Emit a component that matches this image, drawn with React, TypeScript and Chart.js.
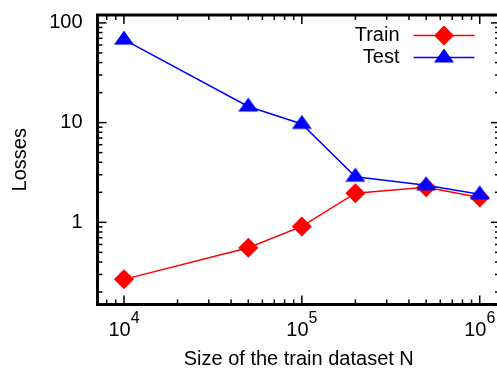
import React, { useEffect, useRef } from 'react';
import { Chart, registerables } from 'chart.js';

Chart.register(...registerables);

// ---- data ----
const trainSizes = [1e4, 5e4, 1e5, 2e5, 5e5, 1e6];
const trainLoss = [0.268, 0.556, 0.91, 1.96, 2.25, 1.77];
const testLoss = [68, 14.5, 9.7, 2.87, 2.35, 1.91];
const seriesLabels = ['Train', 'Test'];
const seriesColors = ['#ff0000', '#0000ff'];
const xTitle = 'Size of the train dataset N';
const yTitle = 'Losses';
const X_MIN = 7100;
const X_MAX = 1.3e6;
const Y_MIN = 0.15;
const Y_MAX = 120;

const FONT = '"Liberation Sans", Arial, Helvetica, sans-serif';

function makeTriangle(color: string): HTMLCanvasElement {
  const c = document.createElement('canvas');
  c.width = 20;
  c.height = 19;
  const g = c.getContext('2d')!;
  g.fillStyle = color;
  g.beginPath();
  g.moveTo(10, 0.5);
  g.lineTo(20, 14.5);
  g.lineTo(0, 14.5);
  g.closePath();
  g.fill();
  return c;
}

function drawDiamond(ctx: CanvasRenderingContext2D, x: number, y: number, r: number, color: string) {
  ctx.fillStyle = color;
  ctx.beginPath();
  ctx.moveTo(x, y - r);
  ctx.lineTo(x + r, y);
  ctx.lineTo(x, y + r);
  ctx.lineTo(x - r, y);
  ctx.closePath();
  ctx.fill();
}

const framePlugin = {
  id: 'gnuFrame',
  afterDatasetsDraw(chart: any) {
    const { ctx, chartArea: a, scales } = chart;
    const xs = scales.x;
    const ys = scales.y;
    ctx.save();
    ctx.strokeStyle = '#000';
    ctx.lineWidth = 1.5;
    const line = (x1: number, y1: number, x2: number, y2: number) => {
      ctx.beginPath();
      ctx.moveTo(x1, y1);
      ctx.lineTo(x2, y2);
      ctx.stroke();
    };
    // x ticks (bottom + top mirror)
    for (let e = Math.floor(Math.log10(X_MIN)); e <= Math.ceil(Math.log10(X_MAX)); e++) {
      for (let m = 1; m <= 9; m++) {
        const v = m * Math.pow(10, e);
        if (v <= X_MIN || v >= X_MAX) continue;
        const px = xs.getPixelForValue(v);
        const len = m === 1 ? 9 : 5;
        line(px, a.bottom, px, a.bottom - len);
        line(px, a.top, px, a.top + len);
      }
    }
    // y ticks (left + right mirror)
    for (let e = Math.floor(Math.log10(Y_MIN)); e <= Math.ceil(Math.log10(Y_MAX)); e++) {
      for (let m = 1; m <= 9; m++) {
        const v = m * Math.pow(10, e);
        if (v <= Y_MIN || v >= Y_MAX) continue;
        const py = ys.getPixelForValue(v);
        const len = m === 1 ? 9 : 5;
        line(a.left, py, a.left + len, py);
        line(a.right, py, a.right - len, py);
      }
    }
    ctx.lineWidth = 3;
    ctx.strokeRect(a.left, a.top, a.right - a.left, a.bottom - a.top);

    // x tick labels: 10^e
    ctx.fillStyle = '#000';
    ctx.textBaseline = 'alphabetic';
    ctx.textAlign = 'left';
    for (let e = Math.ceil(Math.log10(X_MIN)); e <= Math.floor(Math.log10(X_MAX)); e++) {
      const px = xs.getPixelForValue(Math.pow(10, e));
      ctx.font = `20px ${FONT}`;
      const w1 = ctx.measureText('10').width;
      ctx.font = `16px ${FONT}`;
      const w2 = ctx.measureText(String(e)).width;
      const x0 = px - (w1 + w2) / 2;
      ctx.font = `20px ${FONT}`;
      ctx.fillText('10', x0, a.bottom + 31.5);
      ctx.font = `16px ${FONT}`;
      ctx.fillText(String(e), x0 + w1, a.bottom + 18.5);
    }
    ctx.restore();
  },
  afterDraw(chart: any) {
    const { ctx, chartArea: a } = chart;
    ctx.save();
    chart.data.datasets.forEach((ds: any, i: number) => {
      const y = a.top + 20.5 + 22 * i;
      ctx.font = `20px ${FONT}`;
      ctx.fillStyle = '#000';
      ctx.textAlign = 'right';
      ctx.textBaseline = 'middle';
      ctx.fillText(ds.label, a.right - 100.5, y);
      ctx.strokeStyle = ds.borderColor;
      ctx.lineWidth = ds.borderWidth;
      ctx.beginPath();
      ctx.moveTo(a.right - 86.5, y);
      ctx.lineTo(a.right - 25.5, y);
      ctx.stroke();
      const mx = a.right - 56;
      if (ds.pointStyle === 'rectRot') {
        drawDiamond(ctx, mx, y, ds.pointRadius, ds.pointBackgroundColor);
      } else if (ds.pointStyle instanceof HTMLCanvasElement) {
        const img = ds.pointStyle as HTMLCanvasElement;
        ctx.drawImage(img, mx - img.width / 2, y - img.height / 2);
      }
    });
    ctx.restore();
  },
};

export default function App() {
  const ref = useRef<HTMLCanvasElement | null>(null);

  useEffect(() => {
    if (!ref.current) return;
    const tri = makeTriangle(seriesColors[1]);
    const chart = new Chart(ref.current, {
      type: 'line',
      data: {
        datasets: [
          {
            label: seriesLabels[0],
            data: trainSizes.map((x, i) => ({ x, y: trainLoss[i] })),
            borderColor: seriesColors[0],
            backgroundColor: seriesColors[0],
            pointBackgroundColor: seriesColors[0],
            borderWidth: 1.5,
            pointStyle: 'rectRot',
            pointRadius: 10,
            pointBorderWidth: 0,
            tension: 0,
            order: 1,
          },
          {
            label: seriesLabels[1],
            data: trainSizes.map((x, i) => ({ x, y: testLoss[i] })),
            borderColor: seriesColors[1],
            backgroundColor: seriesColors[1],
            pointBackgroundColor: seriesColors[1],
            borderWidth: 1.5,
            pointStyle: tri as any,
            pointRadius: 10,
            pointBorderWidth: 0,
            tension: 0,
            order: 0,
          },
        ],
      },
      options: {
        responsive: false,
        animation: false,
        devicePixelRatio: 1,
        layout: { padding: { left: 0, top: 15, right: 7.5, bottom: 0 } },
        plugins: {
          legend: { display: false },
          tooltip: { enabled: false },
        },
        scales: {
          x: {
            type: 'logarithmic',
            min: X_MIN,
            max: X_MAX,
            grid: { display: false },
            border: { display: false },
            ticks: { display: false },
            afterFit: (s: any) => {
              s.height = 64.5;
              s.paddingLeft = 0;
              s.paddingRight = 0;
            },
            title: {
              display: true,
              text: xTitle,
              color: '#000',
              font: { family: FONT, size: 20, lineHeight: 1 },
              padding: { top: 0, bottom: 0 },
            },
          },
          y: {
            type: 'logarithmic',
            min: Y_MIN,
            max: Y_MAX,
            grid: { display: false, drawTicks: false },
            border: { display: false },
            ticks: {
              autoSkip: false,
              padding: 15,
              color: '#000',
              font: { family: FONT, size: 20 },
              callback: (v: any) => {
                const l = Math.log10(Number(v));
                return Math.abs(l - Math.round(l)) < 1e-9 ? String(Math.round(Number(v))) : '';
              },
            },
            afterFit: (s: any) => {
              s.width = 97.5;
              s.paddingTop = 0;
              s.paddingBottom = 0;
            },
            title: {
              display: true,
              text: yTitle,
              color: '#000',
              font: { family: FONT, size: 20, lineHeight: 1 },
              padding: { top: 10.5, bottom: 0 },
            },
          },
        },
      },
      plugins: [framePlugin],
    });
    return () => chart.destroy();
  }, []);

  return (
    <div
      style={{
        position: 'fixed',
        left: 0,
        top: 0,
        width: 497,
        height: 369,
        overflow: 'hidden',
        background: '#fff',
      }}
    >
      <canvas ref={ref} width={510} height={369} style={{ display: 'block' }} />
    </div>
  );
}
